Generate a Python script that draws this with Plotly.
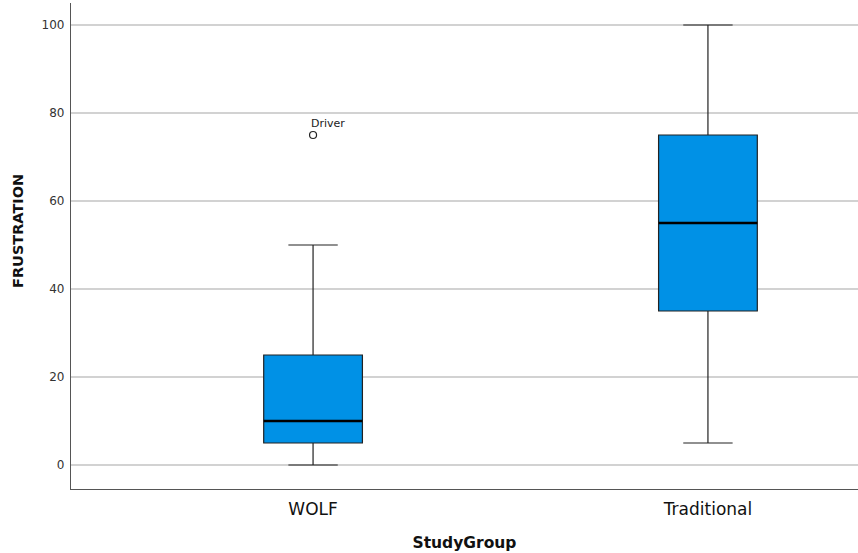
import plotly.graph_objects as go

groups = ["WOLF", "Traditional"]
lower_fence = [0, 5]
q1 = [5, 35]
median = [10, 55]
q3 = [25, 75]
upper_fence = [50, 100]
outlier_group = ["WOLF"]
outlier_value = [75]
outlier_label = ["Driver"]
y_ticks = [0, 20, 40, 60, 80, 100]

BOX_W = 0.25
fill = "#0091E6"
FONT = "DejaVu Sans, sans-serif"

fig = go.Figure()
fig.add_trace(go.Box(
    x=groups, q1=q1, median=median, q3=q3,
    lowerfence=lower_fence, upperfence=upper_fence,
    width=BOX_W, whiskerwidth=0.5,
    fillcolor=fill, line=dict(color="#222222", width=1.2),
    boxpoints=False, showlegend=False, hoverinfo="skip",
))
# thick median lines
for i, g in enumerate(groups):
    fig.add_trace(go.Scatter(
        x=[i - BOX_W / 2, i + BOX_W / 2], y=[median[i], median[i]],
        mode="lines", line=dict(color="#000000", width=2.6),
        showlegend=False, hoverinfo="skip", xaxis="x2",
    ))
# outlier
fig.add_trace(go.Scatter(
    x=outlier_group, y=outlier_value, mode="markers",
    marker=dict(symbol="circle-open", size=7, color="#222222", line=dict(width=1.2)),
    showlegend=False, hoverinfo="skip",
))
for g, v, t in zip(outlier_group, outlier_value, outlier_label):
    fig.add_annotation(
        x=g, y=v, text=t, showarrow=False, xanchor="left", yanchor="bottom",
        xshift=-4, yshift=3, font=dict(family=FONT, size=11, color="#222222"),
    )

fig.add_annotation(
    xref="paper", yref="paper", x=-0.0673, y=0.531, text="<b>FRUSTRATION</b>",
    textangle=-90, showarrow=False, xanchor="center", yanchor="middle",
    font=dict(family=FONT, size=14.5, color="#111111"),
)

xr = [-0.613, 1.38]
fig.update_layout(
    width=858, height=553,
    margin=dict(l=71, r=0, t=3, b=64),
    paper_bgcolor="white", plot_bgcolor="white",
    font=dict(family=FONT, color="#222222"),
    xaxis=dict(
        type="category", categoryarray=groups, range=xr,
        showline=True, linecolor="#555555", linewidth=1.2,
        showgrid=False, ticks="", tickfont=dict(size=17, color="#111111"),
        ticklabelstandoff=4,
        title=dict(text="<b>StudyGroup</b>", font=dict(size=15.5, color="#111111"), standoff=19),
        zeroline=False,
    ),
    xaxis2=dict(
        overlaying="x", range=xr, visible=False, showgrid=False, zeroline=False,
    ),
    yaxis=dict(
        range=[-5.45, 105], tickvals=y_ticks,
        showline=True, linecolor="#555555", linewidth=1.2,
        showgrid=True, gridcolor="#d2d2d2", gridwidth=1.5,
        zeroline=False, ticks="", tickfont=dict(size=12, color="#333333"),
        ticklabelstandoff=3,
    ),
)
fig.write_html("out.html", config={"displayModeBar": False},
               post_script="document.body.style.margin='0';document.body.style.padding='0';")
